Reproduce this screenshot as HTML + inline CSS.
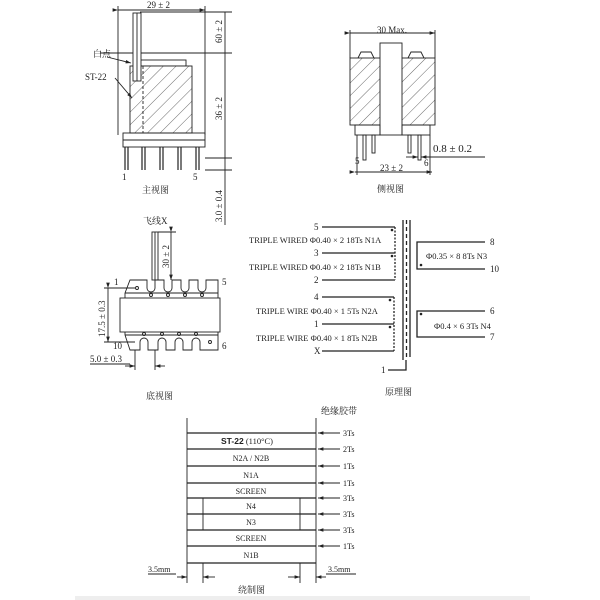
<!DOCTYPE html>
<html><head><meta charset="utf-8"><style>
html,body{margin:0;padding:0;background:#fff;}
svg{display:block;}
text{font-family:"Liberation Serif","Noto Serif CJK SC",serif;fill:#222;}
</style></head><body>
<svg width="600" height="600" viewBox="0 0 600 600" xmlns="http://www.w3.org/2000/svg">
<defs>
<pattern id="h" width="9" height="9" patternUnits="userSpaceOnUse" patternTransform="rotate(45)">
<rect width="9" height="9" fill="#fff"/><line x1="0" y1="0" x2="0" y2="9" stroke="#444" stroke-width="0.8"/>
</pattern>
<marker id="a" markerWidth="6" markerHeight="6" refX="6" refY="3" orient="auto"><path d="M0,1 L6,3 L0,5 z" fill="#222"/></marker>
</defs>
<g stroke="#222" stroke-width="0.9" fill="none">
<!-- FRONT VIEW -->
<line x1="118" y1="10" x2="205" y2="10" marker-start="url(#a)" marker-end="url(#a)"/>
<line x1="118" y1="6" x2="118" y2="135"/><line x1="205" y1="6" x2="205" y2="135"/>
<line x1="225" y1="12" x2="225" y2="225"/>
<line x1="140" y1="12" x2="232" y2="12"/>
<line x1="100" y1="53" x2="232" y2="53"/>
<line x1="205" y1="158" x2="232" y2="158"/>
<line x1="205" y1="170" x2="232" y2="170"/>
<rect x="140" y="60" width="46" height="6"/>
<rect x="130" y="66" width="62" height="67" fill="url(#h)"/>
<line x1="143" y1="66" x2="143" y2="133" stroke-dasharray="3,2"/>
<rect x="133" y="13" width="8" height="68" fill="#fff"/>
<line x1="137" y1="13" x2="137" y2="81"/>
<rect x="123" y="133" width="82" height="14"/>
<line x1="123" y1="140" x2="205" y2="140"/>
<g stroke-width="1.2">
<line x1="125" y1="147" x2="125" y2="170"/><line x1="128" y1="147" x2="128" y2="170"/>
<line x1="142" y1="147" x2="142" y2="170"/><line x1="145" y1="147" x2="145" y2="170"/>
<line x1="160" y1="147" x2="160" y2="170"/><line x1="163" y1="147" x2="163" y2="170"/>
<line x1="178" y1="147" x2="178" y2="170"/><line x1="181" y1="147" x2="181" y2="170"/>
<line x1="196" y1="147" x2="196" y2="170"/><line x1="199" y1="147" x2="199" y2="170"/>
</g>
<line x1="107" y1="57" x2="131" y2="63" marker-end="url(#a)"/>
<line x1="115" y1="78" x2="132" y2="98" marker-end="url(#a)"/>
<!-- SIDE VIEW -->
<line x1="350" y1="33" x2="435" y2="33" marker-start="url(#a)" marker-end="url(#a)"/>
<line x1="350" y1="30" x2="350" y2="58"/><line x1="435" y1="30" x2="435" y2="58"/>
<rect x="350" y="58" width="85" height="67" fill="url(#h)"/>
<path d="M358,58 l3,-6 h10 l3,6 M408,58 l3,-6 h10 l3,6"/>
<rect x="380" y="43" width="22" height="92" fill="#fff"/>
<rect x="355" y="125" width="25" height="10"/><rect x="402" y="125" width="28" height="10"/>
<line x1="357" y1="135" x2="357" y2="175"/><line x1="430" y1="135" x2="430" y2="175"/>
<rect x="363" y="135" width="3" height="25"/><rect x="372" y="135" width="3" height="18"/>
<rect x="408" y="135" width="3" height="18"/><rect x="418" y="135" width="3" height="25"/>
<line x1="355" y1="172" x2="432" y2="172" marker-start="url(#a)" marker-end="url(#a)"/>
<line x1="406" y1="157" x2="418" y2="157" marker-end="url(#a)"/>
<line x1="432" y1="157" x2="421" y2="157" marker-end="url(#a)"/>
<line x1="421" y1="157" x2="485" y2="157"/>
<!-- BOTTOM VIEW -->
<rect x="152" y="232" width="6" height="48"/>
<line x1="155" y1="232" x2="155" y2="280"/>
<line x1="158" y1="232" x2="176" y2="232"/>
<line x1="171" y1="232" x2="171" y2="280" marker-start="url(#a)" marker-end="url(#a)"/>
<path d="M125,293 L130,280 H147 V288 a4,4 0 0 0 8,0 V280 H164 V288 a4,4 0 0 0 8,0 V280 H181 V288 a4,4 0 0 0 8,0 V280 H198 V288 a4,4 0 0 0 8,0 V280 H218 V293"/>
<line x1="125" y1="293" x2="218" y2="293"/>
<path d="M125,335 L130,350 H140 V342 a4,4 0 0 1 8,0 V350 H158 V342 a4,4 0 0 1 8,0 V350 H175 V342 a4,4 0 0 1 8,0 V350 H192 V342 a4,4 0 0 1 8,0 V350 H218 V335"/>
<line x1="125" y1="335" x2="218" y2="335"/>
<rect x="120" y="298" width="100" height="34"/>
<line x1="125" y1="293" x2="125" y2="298"/><line x1="218" y1="293" x2="218" y2="298"/>
<line x1="125" y1="332" x2="125" y2="335"/><line x1="218" y1="332" x2="218" y2="335"/>
<line x1="108" y1="288" x2="108" y2="342" marker-start="url(#a)" marker-end="url(#a)"/>
<line x1="104" y1="288" x2="135" y2="288"/><line x1="104" y1="342" x2="135" y2="342"/>
<line x1="90" y1="364" x2="130" y2="364"/>
<line x1="135" y1="350" x2="135" y2="370"/><line x1="155" y1="350" x2="155" y2="370"/>
<line x1="125" y1="366" x2="135" y2="366" marker-end="url(#a)"/>
<line x1="165" y1="366" x2="155" y2="366" marker-end="url(#a)"/>
<circle cx="137" cy="288" r="1.5"/><circle cx="151" cy="295" r="1.5"/><circle cx="168" cy="295" r="1.5"/><circle cx="185" cy="295" r="1.5"/><circle cx="202" cy="295" r="1.5"/>
<circle cx="144" cy="334" r="1.5"/><circle cx="162" cy="334" r="1.5"/><circle cx="179" cy="334" r="1.5"/><circle cx="196" cy="334" r="1.5"/><circle cx="210" cy="342" r="1.5"/>
<!-- SCHEMATIC -->
<g stroke-width="1.3">
<line x1="403" y1="220" x2="403" y2="360"/>
<line x1="406.5" y1="220" x2="406.5" y2="360" stroke-dasharray="4,3"/>
<line x1="410" y1="220" x2="410" y2="357"/>
<path d="M388,370 h18 v-10"/>
<path d="M322,227 h73 M322,253 h73 M322,280 h73"/>
<path d="M395,227 v53" stroke-dasharray="2,1.5"/>
<path d="M322,297 h72 M322,324 h72 M322,351 h72"/>
<path d="M394,297 v54" stroke-dasharray="2,1.5"/>
<path d="M485,242 h-68 v27 h68" />
<path d="M485,311 h-68 v26 h68" />
</g>
<!-- WINDING -->
<line x1="187" y1="418" x2="187" y2="563"/><line x1="316" y1="418" x2="316" y2="563"/>
<g stroke-width="1.3">
<line x1="187" y1="433" x2="316" y2="433"/><line x1="187" y1="449" x2="316" y2="449"/>
<line x1="187" y1="466" x2="316" y2="466"/><line x1="187" y1="483" x2="316" y2="483"/>
<line x1="187" y1="498" x2="316" y2="498"/><line x1="187" y1="514" x2="316" y2="514"/>
<line x1="187" y1="530" x2="316" y2="530"/><line x1="187" y1="546" x2="316" y2="546"/>
<line x1="187" y1="563" x2="316" y2="563"/>
</g>
<line x1="203" y1="498" x2="203" y2="530"/><line x1="300" y1="498" x2="300" y2="530"/>
<g>
<line x1="340" y1="433" x2="318" y2="433" marker-end="url(#a)"/>
<line x1="340" y1="449" x2="318" y2="449" marker-end="url(#a)"/>
<line x1="340" y1="466" x2="318" y2="466" marker-end="url(#a)"/>
<line x1="340" y1="483" x2="318" y2="483" marker-end="url(#a)"/>
<line x1="340" y1="498" x2="318" y2="498" marker-end="url(#a)"/>
<line x1="340" y1="514" x2="318" y2="514" marker-end="url(#a)"/>
<line x1="340" y1="530" x2="318" y2="530" marker-end="url(#a)"/>
<line x1="340" y1="546" x2="318" y2="546" marker-end="url(#a)"/>
</g>
<line x1="187" y1="563" x2="187" y2="583"/><line x1="203" y1="563" x2="203" y2="583"/>
<line x1="300" y1="563" x2="300" y2="583"/><line x1="316" y1="563" x2="316" y2="583"/>
<line x1="148" y1="574" x2="176" y2="574"/>
<line x1="177" y1="577" x2="187" y2="577" marker-end="url(#a)"/>
<line x1="215" y1="577" x2="203" y2="577" marker-end="url(#a)"/>
<line x1="288" y1="577" x2="300" y2="577" marker-end="url(#a)"/>
<line x1="326" y1="577" x2="316" y2="577" marker-end="url(#a)"/>
<line x1="326" y1="574" x2="356" y2="574"/>
</g>
<g fill="#222">
<circle cx="392" cy="230" r="1.3"/><circle cx="392" cy="256" r="1.3"/>
<circle cx="390" cy="300" r="1.3"/><circle cx="390" cy="327" r="1.3"/>
<circle cx="421" cy="265" r="1.3"/><circle cx="421" cy="314" r="1.3"/>
</g>
<rect x="75" y="596" width="455" height="4" fill="#eee"/>
<g font-size="9">
<text x="147" y="8">29 ± 2</text>
<text x="0" y="0" transform="translate(222,43) rotate(-90)">60 ± 2</text>
<text x="0" y="0" transform="translate(222,120) rotate(-90)">36 ± 2</text>
<text x="0" y="0" transform="translate(222,222) rotate(-90)">3.0 ± 0.4</text>
<text x="93" y="57">白点</text>
<text x="85" y="80">ST-22</text>
<text x="122" y="180">1</text><text x="193" y="180">5</text>
<text x="142" y="193">主视图</text>
<text x="377" y="33">30 Max.</text>
<text x="433" y="152" font-size="11">0.8 ± 0.2</text>
<text x="355" y="164">5</text><text x="424" y="166">6</text>
<text x="380" y="171">23 ± 2</text>
<text x="377" y="192">侧视图</text>
<text x="143" y="224">飞线X</text>
<text x="0" y="0" transform="translate(169,268) rotate(-90)">30 ± 2</text>
<text x="114" y="285">1</text><text x="222" y="285">5</text>
<text x="113" y="349">10</text><text x="222" y="349">6</text>
<text x="0" y="0" transform="translate(105,337) rotate(-90)">17.5 ± 0.3</text>
<text x="90" y="362">5.0 ± 0.3</text>
<text x="146" y="399">底视图</text>
<text x="314" y="230">5</text><text x="314" y="256">3</text><text x="314" y="283">2</text>
<text x="314" y="300">4</text><text x="314" y="327">1</text><text x="314" y="354">X</text>
<text x="381" y="373">1</text>
<text x="249" y="243" font-size="8.5">TRIPLE WIRED Φ0.40 × 2  18Ts  N1A</text>
<text x="249" y="270" font-size="8.5">TRIPLE WIRED Φ0.40 × 2  18Ts  N1B</text>
<text x="256" y="314" font-size="8.5">TRIPLE WIRE Φ0.40 × 1  5Ts  N2A</text>
<text x="256" y="341" font-size="8.5">TRIPLE WIRE Φ0.40 × 1  8Ts  N2B</text>
<text x="490" y="245">8</text><text x="490" y="272">10</text>
<text x="490" y="314">6</text><text x="490" y="340">7</text>
<text x="426" y="259" font-size="8.5">Φ0.35 × 8   8Ts    N3</text>
<text x="434" y="329" font-size="8.5">Φ0.4 × 6   3Ts    N4</text>
<text x="385" y="395">原理图</text>
<text x="321" y="414">绝缘胶带</text>
<text x="343" y="436" font-size="8">3Ts</text><text x="343" y="452" font-size="8">2Ts</text>
<text x="343" y="469" font-size="8">1Ts</text><text x="343" y="486" font-size="8">1Ts</text>
<text x="343" y="501" font-size="8">3Ts</text><text x="343" y="517" font-size="8">3Ts</text>
<text x="343" y="533" font-size="8">3Ts</text><text x="343" y="549" font-size="8">1Ts</text>
<text x="221" y="444" font-size="8.5"><tspan font-family="Liberation Sans" font-weight="bold">ST-22</tspan> (110°C)</text>
<text x="251" y="461" font-size="8" text-anchor="middle">N2A / N2B</text>
<text x="251" y="478" font-size="8" text-anchor="middle">N1A</text>
<text x="251" y="494" font-size="8" text-anchor="middle">SCREEN</text>
<text x="251" y="509" font-size="8" text-anchor="middle">N4</text>
<text x="251" y="525" font-size="8" text-anchor="middle">N3</text>
<text x="251" y="541" font-size="8" text-anchor="middle">SCREEN</text>
<text x="251" y="558" font-size="8" text-anchor="middle">N1B</text>
<text x="148" y="572" font-size="8">3.5mm</text>
<text x="328" y="572" font-size="8">3.5mm</text>
<text x="238" y="593">绕制图</text>
</g>
</svg>
</body></html>
